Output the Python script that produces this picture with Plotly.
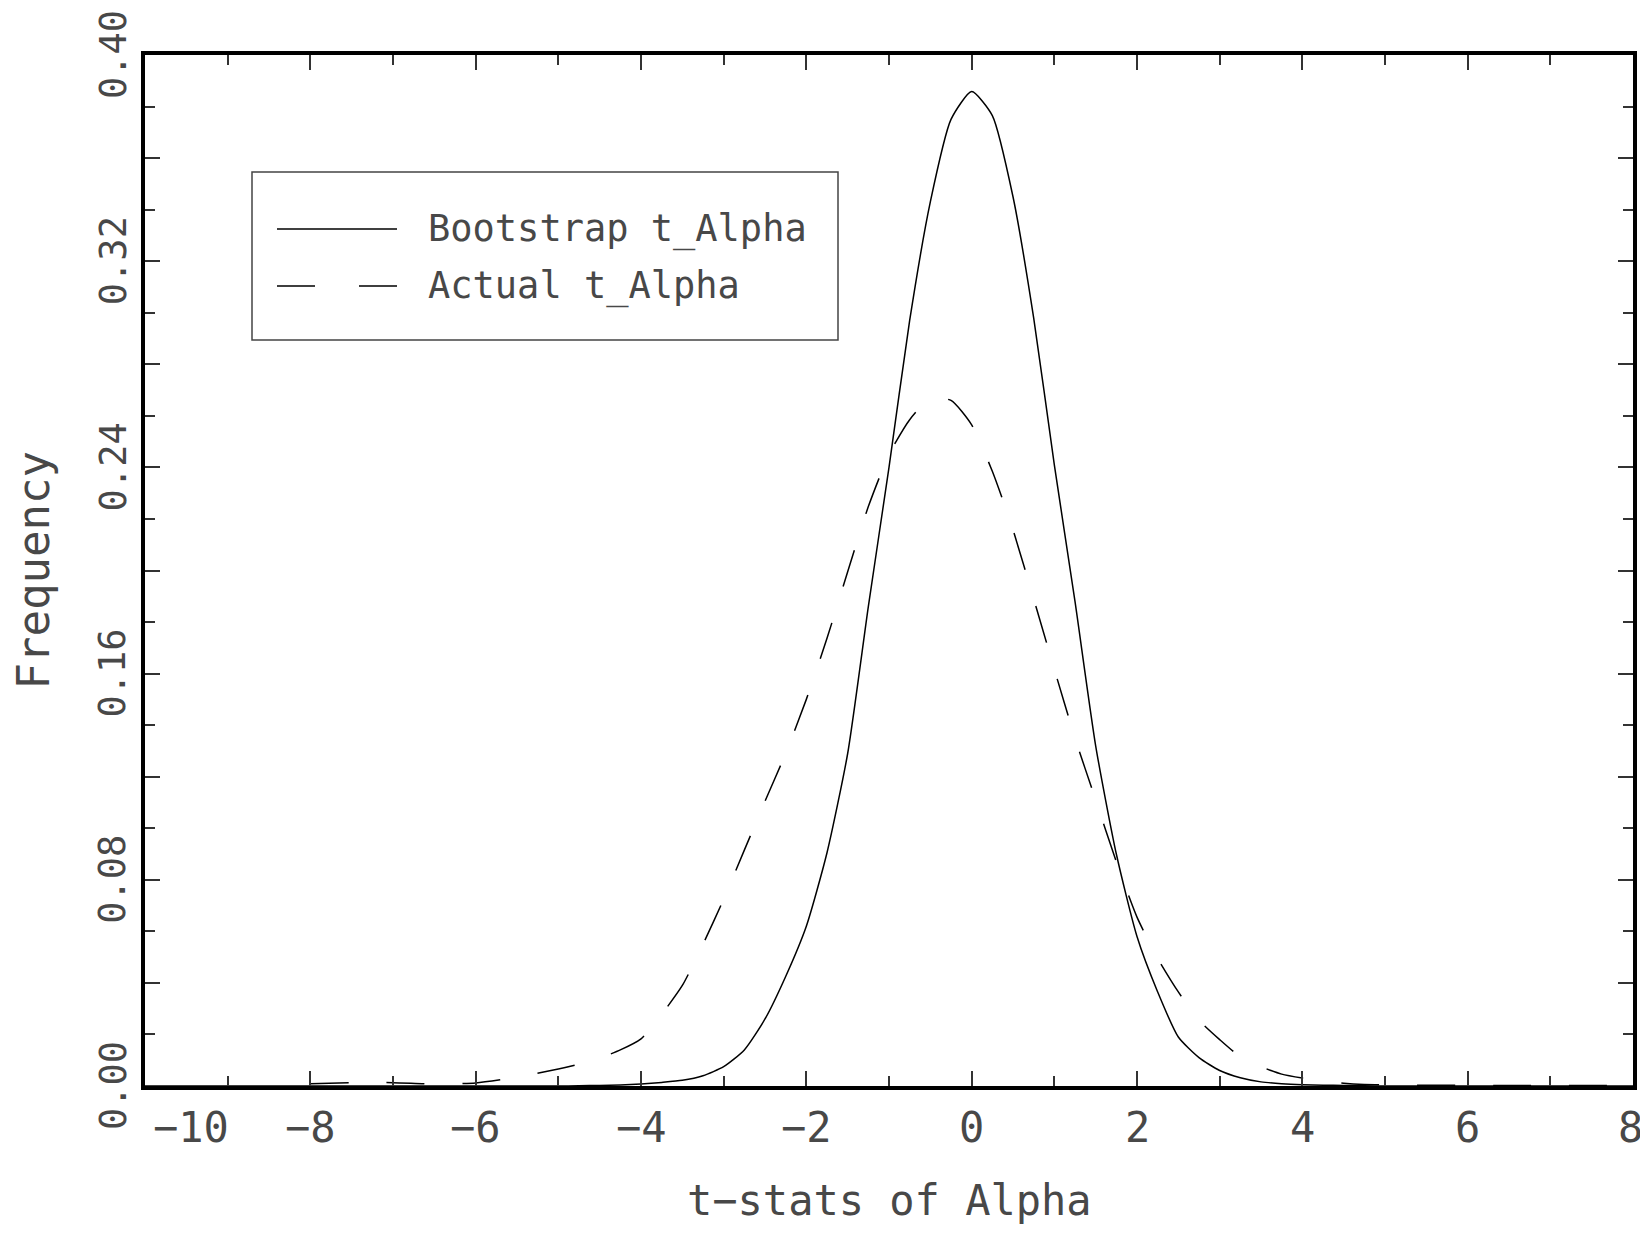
import plotly.graph_objects as go

# ---------------- data ----------------
t_boot = [-10, -9, -8, -7, -6, -5.5, -5, -4.75, -4.5, -4.25, -4.0, -3.75, -3.5, -3.25,
          -3.0, -2.75, -2.5, -2.25, -2.0, -1.75, -1.5, -1.25, -1.0, -0.75, -0.5, -0.25,
          0.0, 0.25, 0.5, 0.75, 1.0, 1.25, 1.5, 1.75, 2.0, 2.25, 2.5, 2.75, 3.0, 3.25,
          3.5, 3.75, 4.0, 4.25, 4.5, 4.75, 5.0, 5.5, 6, 7, 8]
freq_boot = [0.0, 0.0, 0.0, 0.0, 0.0, 0.0, 0.0, 0.0001, 0.0002, 0.0004, 0.0008, 0.0014, 0.0022, 0.0040,
             0.0075, 0.0140, 0.0260, 0.0425, 0.0620, 0.0905, 0.1290, 0.1860, 0.2400, 0.2970, 0.3430, 0.3750,
             0.3858, 0.3765, 0.3450, 0.2980, 0.2410, 0.1880, 0.1320, 0.0900, 0.0580, 0.0365, 0.0190, 0.0110, 0.0060, 0.0032,
             0.0016, 0.0009, 0.0005, 0.0003, 0.0002, 0.0001, 0.0, 0.0, 0.0, 0.0, 0.0]

t_actual = [-8, -7.5, -7, -6.5, -6, -5.5, -5, -4.75, -4.5, -4.25, -4.0, -3.75, -3.5, -3.25,
            -3.0, -2.75, -2.5, -2.25, -2.0, -1.75, -1.5, -1.25, -1.0, -0.75, -0.5, -0.25,
            0.0, 0.25, 0.5, 0.75, 1.0, 1.25, 1.5, 1.75, 2.0, 2.25, 2.5, 2.75, 3.0, 3.25,
            3.5, 3.75, 4.0, 4.25, 4.5, 4.75, 5.0, 5.5, 6, 6.5, 7, 7.5, 8]
freq_actual = [0.0009, 0.0013, 0.0013, 0.0008, 0.0012, 0.0034, 0.0066, 0.0085, 0.0108, 0.0140, 0.0183, 0.0278, 0.0390, 0.0550,
               0.0725, 0.0915, 0.1105, 0.1290, 0.1500, 0.1737, 0.1995, 0.2248, 0.2450, 0.2585, 0.2668, 0.2660,
               0.2565, 0.2385, 0.2158, 0.1890, 0.1617, 0.1350, 0.1110, 0.0870, 0.0655, 0.0495, 0.0365, 0.0255, 0.0180, 0.0113,
               0.0075, 0.0046, 0.0031, 0.0020, 0.0011, 0.0006, 0.0004, 0.0003, 0.0003, 0.0002, 0.0002, 0.0002, 0.0002]

series_names = ["Bootstrap t_Alpha", "Actual t_Alpha"]

x_tick_vals = [-10, -8, -6, -4, -2, 0, 2, 4, 6, 8]
x_tick_text = ["\u221210", "\u22128", "\u22126", "\u22124", "\u22122", "0", "2", "4", "6", "8"]
y_tick_vals = [0.00, 0.08, 0.16, 0.24, 0.32, 0.40]
y_tick_text = ["0.00", "0.08", "0.16", "0.24", "0.32", "0.40"]
y_major_ticks = [0.00, 0.04, 0.08, 0.12, 0.16, 0.20, 0.24, 0.28, 0.32, 0.36, 0.40]

x_title = "t\u2212stats of Alpha"
y_title = "Frequency"

# ---------------- styling ----------------
FONT = "'DejaVu Sans Mono', monospace"
TXT = "#484848"
W, H = 1640, 1217           # page body has an 8px margin; keep the page from scrolling
L, R, T, B = 137, 15, 47, 139

fig = go.Figure()
fig.add_trace(go.Scatter(x=t_boot, y=freq_boot, mode="lines", name=series_names[0],
                         line=dict(color="black", width=1.5, shape="spline", smoothing=0.6),
                         showlegend=False))
fig.add_trace(go.Scatter(x=t_actual, y=freq_actual, mode="lines", name=series_names[1],
                         line=dict(color="black", width=1.5, dash="38px,38px", shape="spline", smoothing=0.6),
                         showlegend=False))

axis_common = dict(showline=True, linecolor="black", linewidth=4, mirror="ticks",
                   ticks="inside", ticklen=15, tickwidth=1.5, tickcolor="#333",
                   showgrid=False, zeroline=False, showticklabels=False)

fig.update_xaxes(range=[-10, 8], tickmode="array", tickvals=x_tick_vals,
                 minor=dict(ticks="inside", ticklen=10, tickwidth=1.5, tickcolor="#333", dtick=1, showgrid=False),
                 **axis_common)
fig.update_yaxes(range=[0, 0.40], tickmode="array", tickvals=y_major_ticks,
                 minor=dict(ticks="inside", ticklen=10, tickwidth=1.5, tickcolor="#333", dtick=0.02, showgrid=False),
                 **axis_common)

annotations = []
# x tick labels
for i, (v, t) in enumerate(zip(x_tick_vals, x_tick_text)):
    shift = 0
    if i == 0:
        shift = 46
    elif i == len(x_tick_vals) - 1:
        shift = -3
    annotations.append(dict(x=v, y=0, xref="x", yref="paper", text=t, showarrow=False,
                            xanchor="center", yanchor="middle",
                            xshift=shift, yshift=-41,
                            font=dict(family=FONT, size=42, color=TXT)))
# y tick labels (rotated)
for v, t in zip(y_tick_vals, y_tick_text):
    annotations.append(dict(x=0, y=v, xref="paper", yref="y", text=t, showarrow=False,
                            textangle=-90, xanchor="center", yanchor="middle", xshift=-32,
                            font=dict(family=FONT, size=37, color=TXT)))
# axis titles
annotations.append(dict(x=0.5, y=0, xref="paper", yref="paper", text=x_title, showarrow=False,
                        xanchor="center", yanchor="middle", yshift=-114, borderpad=0,
                        font=dict(family=FONT, size=42, color=TXT)))
annotations.append(dict(x=0, y=0.5, xref="paper", yref="paper", text=y_title, showarrow=False,
                        textangle=-90, xanchor="center", yanchor="middle", xshift=-112,
                        font=dict(family=FONT, size=44, color=TXT)))

# legend (drawn by hand, matching the reference's long line samples)
pw, ph = W - L - R, H - T - B
OFF = 8  # page-to-figure offset
def px(xp):
    return (xp - OFF - L) / pw
def py(yp):
    return (H - B - (yp - OFF)) / ph

shapes = [
    dict(type="rect", xref="paper", yref="paper", x0=px(252), x1=px(838), y0=py(340), y1=py(172),
         line=dict(color="#444", width=1.5), fillcolor="white", layer="below"),
    dict(type="line", xref="paper", yref="paper", x0=px(277), x1=px(397), y0=py(229), y1=py(229),
         line=dict(color="black", width=1.5)),
    dict(type="line", xref="paper", yref="paper", x0=px(277), x1=px(397), y0=py(286), y1=py(286),
         line=dict(color="black", width=1.5, dash="38px,44px")),
]
for name, yy in zip(series_names, [229, 286]):
    annotations.append(dict(x=px(426), y=py(yy), xref="paper", yref="paper", text=name, showarrow=False,
                            xanchor="left", yanchor="middle",
                            font=dict(family=FONT, size=37, color=TXT)))

fig.update_layout(width=W, height=H, margin=dict(l=L, r=R, t=T, b=B, autoexpand=False),
                  paper_bgcolor="white", plot_bgcolor="white",
                  annotations=annotations, shapes=shapes, showlegend=False)

fig.write_html("out.html")
